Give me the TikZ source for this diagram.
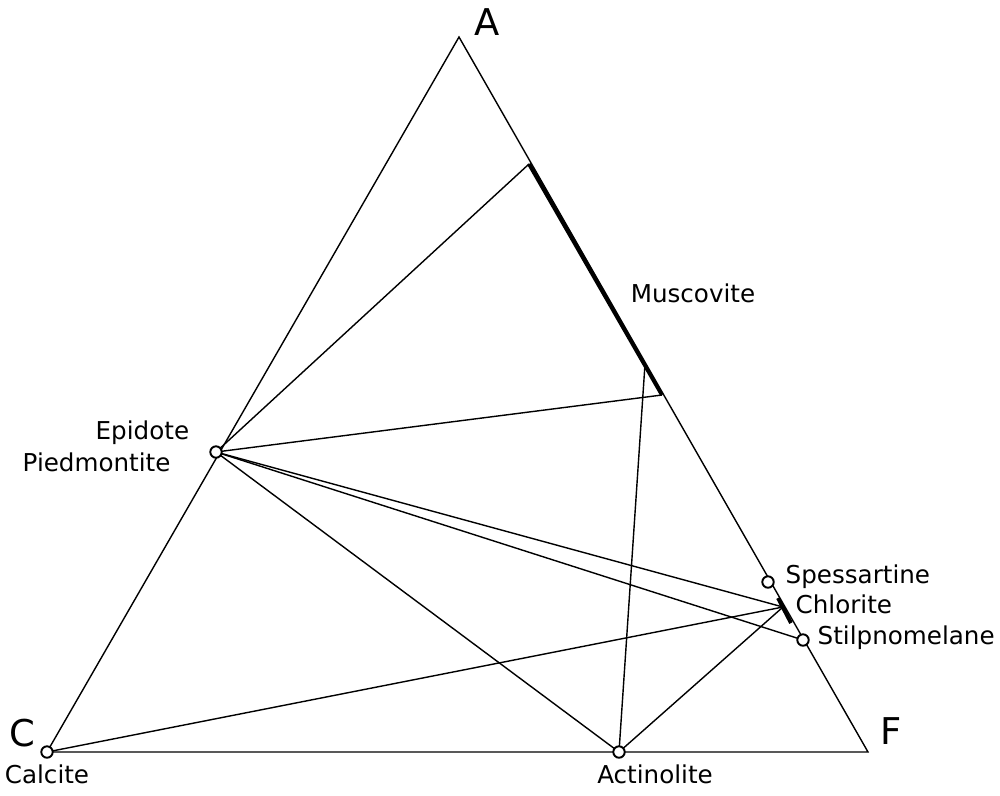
\documentclass[tikz,border=0pt]{standalone}
\usepackage{fontspec}
\setmainfont{DejaVu Sans}
\begin{document}
\begin{tikzpicture}[x=0.02cm,y=-0.02cm,line width=0.8pt,
  phase/.style={circle,draw,fill=white,line width=1.1pt,inner sep=0pt,minimum size=6.5pt},
  lbl/.style={font=\fontsize{14}{16}\selectfont,inner sep=0pt},
  corner/.style={font=\fontsize{21}{24}\selectfont,inner sep=0pt},
  tie/.style={line width=2.2pt}]
  \useasboundingbox (0,0) rectangle (1000,795);

  % corners of the triangle
  \coordinate (A) at (459,37);
  \coordinate (C) at (47,752);
  \coordinate (F) at (868,752);

  % phases
  \coordinate (ep) at (216,452);
  \coordinate (act) at (619,752);
  \coordinate (ms1) at (529,164);
  \coordinate (ms2) at (662,395);
  \coordinate (msx) at (645,364);
  \coordinate (sps) at (768,582);
  \coordinate (chl) at (783,607);
  \coordinate (chl1) at (778,598);
  \coordinate (chl2) at (791,623);
  \coordinate (stp) at (803,640);

  \draw (A) -- (C) -- (F) -- cycle;

  \draw[tie] (ms1) -- (ms2);
  \draw[tie] (chl1) -- (chl2);

  \draw (ep) -- (ms1);
  \draw (ep) -- (ms2);
  \draw (ep) -- (chl);
  \draw (ep) -- (stp);
  \draw (ep) -- (act);
  \draw (C) -- (chl);
  \draw (act) -- (chl);
  \draw (act) -- (msx);

  \node[phase] (epc) at (ep) {};
  \node[phase] (calc) at (C) {};
  \node[phase] (actc) at (act) {};
  \node[phase] (spsc) at (sps) {};
  \node[phase] (stpc) at (stp) {};

  % labels
  \node[corner] (Alab) at (487,22) {A};
  \node[corner] (Clab) at (22,733) {C};
  \node[corner] (Flab) at (891,731) {F};

  \node[lbl] (mslab) at (693,293) {Muscovite};
  \node[lbl,anchor=west] (eplab) at (95,433) {Epidote};
  \node[lbl,anchor=west] (pmlab) at (22,462) {Piedmontite};
  \node[lbl,anchor=west] (spslab) at (785,577) {Spessartine};
  \node[lbl,anchor=west] (chllab) at (795,604) {Chlorite};
  \node[lbl,anchor=west] (stplab) at (817,638) {Stilpnomelane};
  \node[lbl] (callab) at (47,774) {Calcite};
  \node[lbl] (actlab) at (655,774) {Actinolite};
\end{tikzpicture}
\end{document}
